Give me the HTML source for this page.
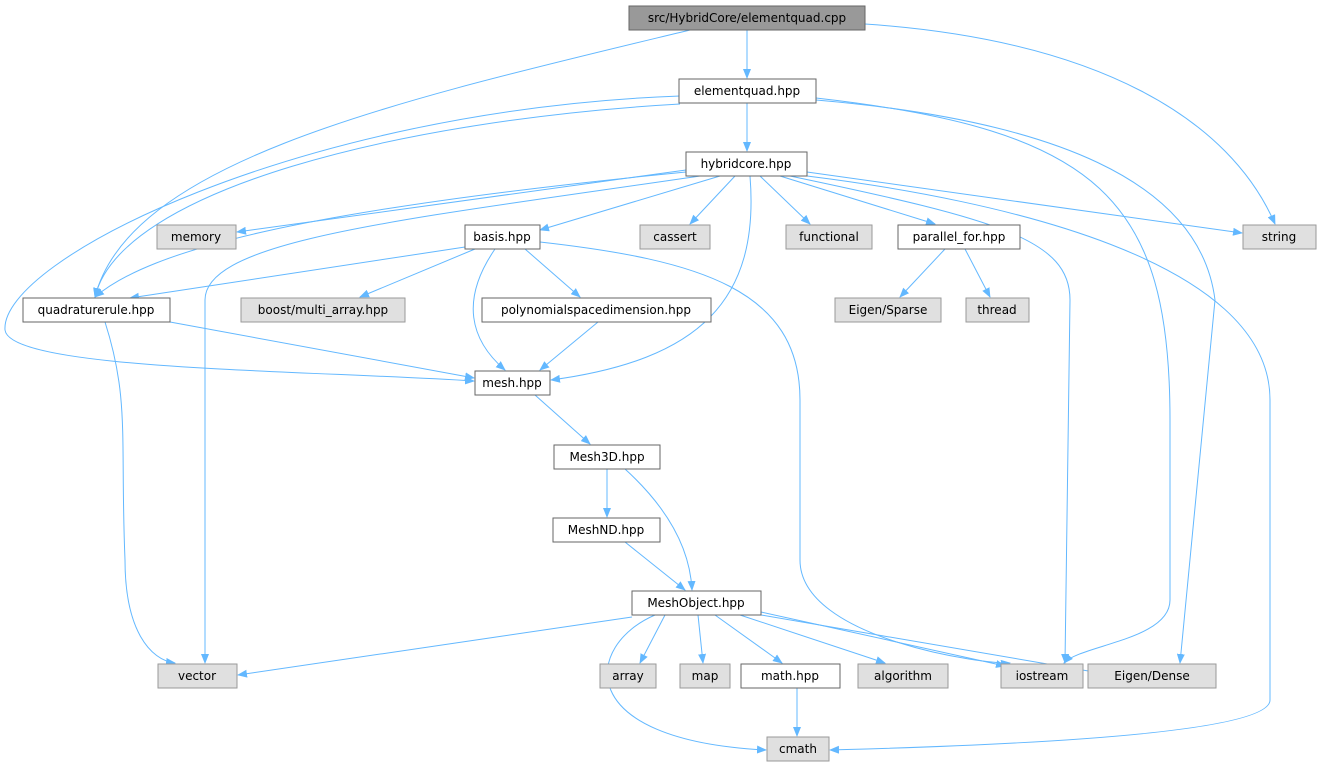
<!DOCTYPE html>
<html><head><meta charset="utf-8"><style>
html,body{margin:0;padding:0;background:#fff;}
svg{display:block;}
text{font-family:"DejaVu Sans","Liberation Sans",sans-serif;font-size:12px;fill:#000;}
.n rect{fill:#fff;stroke:#666;stroke-width:1;}
.g rect{fill:#e0e0e0;stroke:#999;stroke-width:1;}
.e{fill:none;stroke:#63b8ff;stroke-width:1;}
</style></head><body>
<svg width="1321" height="769" viewBox="0 0 1321 769" xmlns="http://www.w3.org/2000/svg">
<defs><marker id="a" markerWidth="10" markerHeight="8" refX="9" refY="4" orient="auto" markerUnits="userSpaceOnUse"><path d="M0,0 L10,4 L0,8 z" fill="#63b8ff"/></marker></defs>
<g marker-end="url(#a)">
<path class="e" d="M747,30 L747,78"/>
<path class="e" d="M865,24 C1100,40 1230,120 1275,224"/>
<path class="e" d="M690,30 C400,100 130,160 95,297"/>
<path class="e" d="M680,96 C300,110 0,260 5,330 C10,370 300,370 474,381"/>
<path class="e" d="M747,103 L747,151"/>
<path class="e" d="M680,104 C400,120 120,190 95,297"/>
<path class="e" d="M816,98 C1100,130 1170,200 1170,420 L1170,600 C1170,640 1080,645 1064,663"/>
<path class="e" d="M816,100 C1050,120 1200,180 1215,300 L1180,663"/>
<path class="e" d="M686,170 L237,232"/>
<path class="e" d="M720,176 L540,230"/>
<path class="e" d="M735,176 L690,224"/>
<path class="e" d="M760,176 L810,224"/>
<path class="e" d="M780,176 L935,224"/>
<path class="e" d="M807,172 L1242,233"/>
<path class="e" d="M686,172 C300,210 150,250 95,297"/>
<path class="e" d="M700,176 C400,220 205,240 205,300 L205,663"/>
<path class="e" d="M750,176 C760,300 700,360 551,380"/>
<path class="e" d="M790,176 C1000,220 1070,240 1070,300 L1065,663"/>
<path class="e" d="M807,176 C1000,200 1270,260 1270,400 L1270,700 C1270,740 900,748 830,750"/>
<path class="e" d="M465,247 L130,298"/>
<path class="e" d="M475,249 L360,297"/>
<path class="e" d="M525,249 L580,297"/>
<path class="e" d="M495,249 C460,300 470,340 505,370"/>
<path class="e" d="M540,242 C700,260 800,290 800,400 L800,560 C800,640 990,665 1010,663"/>
<path class="e" d="M945,249 L900,297"/>
<path class="e" d="M965,249 L990,297"/>
<path class="e" d="M170,322 L474,378"/>
<path class="e" d="M105,322 C130,400 120,440 125,560 C125,630 150,660 175,663"/>
<path class="e" d="M598,322 L540,370"/>
<path class="e" d="M535,395 L590,444"/>
<path class="e" d="M607,469 L607,517"/>
<path class="e" d="M625,469 C670,510 690,550 692,590"/>
<path class="e" d="M625,542 L685,590"/>
<path class="e" d="M632,617 L238,675"/>
<path class="e" d="M665,615 L640,663"/>
<path class="e" d="M698,615 L703,663"/>
<path class="e" d="M715,615 L782,663"/>
<path class="e" d="M740,615 L885,663"/>
<path class="e" d="M761,612 L1005,666"/>
<path class="e" d="M761,615 L1100,673"/>
<path class="e" d="M655,615 C585,645 570,740 766,750"/>
<path class="e" d="M797,688 L797,736"/>
</g>
<g class="g"><rect x="629" y="6" width="236" height="24" style="fill:#999;stroke:#666"/><text x="747" y="22" text-anchor="middle">src/HybridCore/elementquad.cpp</text></g>
<g class="n"><rect x="679" y="79" width="137" height="24"/><text x="747" y="95" text-anchor="middle">elementquad.hpp</text></g>
<g class="n"><rect x="686" y="152" width="121" height="24"/><text x="746" y="168" text-anchor="middle">hybridcore.hpp</text></g>
<g class="g"><rect x="157" y="225" width="79" height="24"/><text x="196" y="241" text-anchor="middle">memory</text></g>
<g class="n"><rect x="465" y="225" width="75" height="24"/><text x="502" y="241" text-anchor="middle">basis.hpp</text></g>
<g class="g"><rect x="640" y="225" width="70" height="24"/><text x="675" y="241" text-anchor="middle">cassert</text></g>
<g class="g"><rect x="786" y="225" width="86" height="24"/><text x="829" y="241" text-anchor="middle">functional</text></g>
<g class="n"><rect x="898" y="225" width="122" height="24"/><text x="959" y="241" text-anchor="middle">parallel_for.hpp</text></g>
<g class="g"><rect x="1243" y="225" width="73" height="24"/><text x="1279" y="241" text-anchor="middle">string</text></g>
<g class="n"><rect x="23" y="298" width="147" height="24"/><text x="96" y="314" text-anchor="middle">quadraturerule.hpp</text></g>
<g class="g"><rect x="241" y="298" width="164" height="24"/><text x="323" y="314" text-anchor="middle">boost/multi_array.hpp</text></g>
<g class="n"><rect x="482" y="298" width="229" height="24"/><text x="596" y="314" text-anchor="middle">polynomialspacedimension.hpp</text></g>
<g class="g"><rect x="835" y="298" width="106" height="24"/><text x="888" y="314" text-anchor="middle">Eigen/Sparse</text></g>
<g class="g"><rect x="966" y="298" width="63" height="24"/><text x="997" y="314" text-anchor="middle">thread</text></g>
<g class="n"><rect x="475" y="371" width="75" height="24"/><text x="512" y="387" text-anchor="middle">mesh.hpp</text></g>
<g class="n"><rect x="554" y="445" width="106" height="24"/><text x="607" y="461" text-anchor="middle">Mesh3D.hpp</text></g>
<g class="n"><rect x="553" y="518" width="107" height="24"/><text x="606" y="534" text-anchor="middle">MeshND.hpp</text></g>
<g class="n"><rect x="632" y="591" width="129" height="24"/><text x="696" y="607" text-anchor="middle">MeshObject.hpp</text></g>
<g class="g"><rect x="158" y="664" width="79" height="24"/><text x="197" y="680" text-anchor="middle">vector</text></g>
<g class="g"><rect x="600" y="664" width="56" height="24"/><text x="628" y="680" text-anchor="middle">array</text></g>
<g class="g"><rect x="680" y="664" width="50" height="24"/><text x="705" y="680" text-anchor="middle">map</text></g>
<g class="n"><rect x="741" y="664" width="99" height="24"/><text x="790" y="680" text-anchor="middle">math.hpp</text></g>
<g class="g"><rect x="858" y="664" width="90" height="24"/><text x="903" y="680" text-anchor="middle">algorithm</text></g>
<g class="g"><rect x="1001" y="664" width="82" height="24"/><text x="1042" y="680" text-anchor="middle">iostream</text></g>
<g class="g"><rect x="1088" y="664" width="128" height="24"/><text x="1152" y="680" text-anchor="middle">Eigen/Dense</text></g>
<g class="g"><rect x="767" y="737" width="62" height="24"/><text x="798" y="753" text-anchor="middle">cmath</text></g>
</svg>
</body></html>
